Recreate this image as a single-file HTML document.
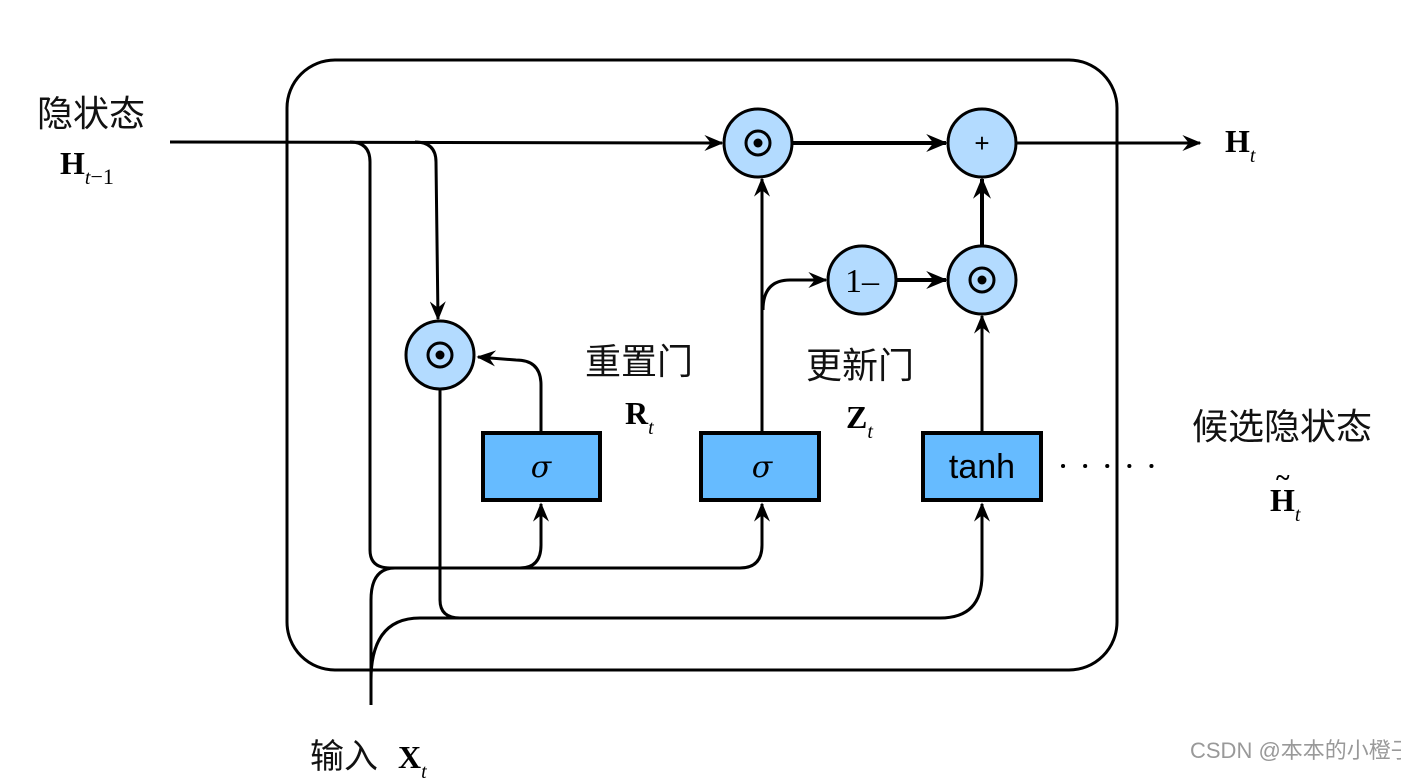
<!DOCTYPE html>
<html><head><meta charset="utf-8"><style>
html,body{margin:0;padding:0;background:#fff;width:1401px;height:779px;overflow:hidden}
svg{display:block}
.cjk{font-family:"Liberation Sans","Noto Sans CJK SC",sans-serif;font-size:36px;fill:#111}
.b{font-family:"Liberation Serif",serif;font-weight:bold;font-size:32px}
.s{font-family:"Liberation Serif",serif;font-style:italic;font-size:20px}
</style></head><body>
<svg width="1401" height="779" viewBox="0 0 1401 779" xmlns="http://www.w3.org/2000/svg">
<defs>
<marker id="a" viewBox="0 0 12 10" refX="11" refY="5" markerWidth="22" markerHeight="16" markerUnits="userSpaceOnUse" orient="auto">
<path d="M0,0 L12,5 L0,10 L4,5 Z" fill="#000"/></marker>
<marker id="a2" viewBox="0 0 12 10" refX="11" refY="5" markerWidth="24" markerHeight="18" markerUnits="userSpaceOnUse" orient="auto">
<path d="M0,0 L12,5 L0,10 L4,5 Z" fill="#000"/></marker>
</defs>
<rect x="287" y="60" width="830" height="610" rx="48" fill="none" stroke="#000" stroke-width="3"/>
<g fill="none" stroke="#000" stroke-width="3">
<path d="M170,142 L722,143" marker-end="url(#a)"/>
<path d="M350,142 Q370,142 370,162 L370,550 Q370,568 390,568 L520,568 Q541,568 541,545 L541,504" marker-end="url(#a)"/>
<path d="M520,568 L740,568 Q762,568 762,545 L762,504" marker-end="url(#a)"/>
<path d="M415,142 Q436,142 436,162 L438,319" marker-end="url(#a)"/>
<path d="M440,390 L440,600 Q440,618 460,618 L940,618 Q982,618 982,575 L982,504" marker-end="url(#a)"/>
<path d="M371,705 L371,600 Q371,568 395,568"/>
<path d="M371,680 Q371,618 420,618 L470,618"/>
<path d="M541,432 L541,385 Q541,360 516,360 L478,357" marker-end="url(#a)"/>
<path d="M762,432 L762,179" marker-end="url(#a)"/>
<path d="M763,310 Q763,280 790,280 L826,280" marker-end="url(#a)"/>
<path d="M982,432 L982,316" marker-end="url(#a)"/>
<path d="M792,143 L946,143" stroke-width="4" marker-end="url(#a2)"/>
<path d="M896,280 L946,280" stroke-width="4" marker-end="url(#a2)"/>
<path d="M982,246 L982,179" stroke-width="4" marker-end="url(#a2)"/>
<path d="M1016,143 L1200,143" marker-end="url(#a)"/>
<path d="M1063,466 L1155,466" stroke-dasharray="0.1,22" stroke-width="4" stroke-linecap="round"/>
</g>
<g stroke="#000" stroke-width="3" fill="#b3dbff">
<circle cx="758" cy="143" r="34"/><circle cx="982" cy="143" r="34"/>
<circle cx="862" cy="280" r="34"/><circle cx="982" cy="280" r="34"/>
<circle cx="440" cy="355" r="34"/>
</g>
<g stroke="#000" stroke-width="3" fill="none">
<circle cx="758" cy="143" r="12"/><circle cx="982" cy="280" r="12"/><circle cx="440" cy="355" r="12"/>
</g>
<g fill="#000"><circle cx="758" cy="143" r="4.5"/><circle cx="982" cy="280" r="4.5"/><circle cx="440" cy="355" r="4.5"/></g>
<text x="982" y="152" text-anchor="middle" font-family="Liberation Sans,sans-serif" font-size="26">+</text>
<text x="862" y="292" text-anchor="middle" font-family="Liberation Serif,serif" font-size="34">1–</text>
<g stroke="#000" stroke-width="4" fill="#66bbff">
<rect x="483" y="433" width="117" height="67"/><rect x="701" y="433" width="118" height="67"/><rect x="923" y="433" width="118" height="67"/>
</g>
<text x="541" y="477" text-anchor="middle" font-family="DejaVu Serif,serif" font-style="italic" font-size="30">σ</text>
<text x="762" y="477" text-anchor="middle" font-family="DejaVu Serif,serif" font-style="italic" font-size="30">σ</text>
<text x="982" y="478" text-anchor="middle" font-family="Liberation Sans,sans-serif" font-size="34">tanh</text>
<text class="cjk" x="37" y="126">隐状态</text>
<text x="60" y="174"><tspan class="b">H</tspan><tspan class="s" dy="10">t</tspan><tspan font-family="Liberation Serif,serif" font-size="22">−1</tspan></text>
<text class="cjk" x="585" y="374">重置门</text>
<text x="625" y="424"><tspan class="b">R</tspan><tspan class="s" dy="10">t</tspan></text>
<text class="cjk" x="806" y="378">更新门</text>
<text x="846" y="428"><tspan class="b">Z</tspan><tspan class="s" dy="10">t</tspan></text>
<text class="cjk" x="1192" y="439">候选隐状态</text>
<text x="1270" y="511"><tspan class="b">H</tspan><tspan class="s" dy="10">t</tspan></text>
<text x="1276" y="486" font-family="Liberation Serif,serif" font-size="26" font-weight="bold">~</text>
<text x="1225" y="152"><tspan class="b">H</tspan><tspan class="s" dy="10">t</tspan></text>
<text class="cjk" x="310" y="768" style="font-size:34px">输入</text>
<text x="398" y="768"><tspan class="b">X</tspan><tspan class="s" dy="10">t</tspan></text>
<text x="1190" y="758" font-family="Liberation Sans,'Noto Sans CJK SC',sans-serif" font-size="22" fill="#999">CSDN @本本的小橙子</text>
</svg>
</body></html>
